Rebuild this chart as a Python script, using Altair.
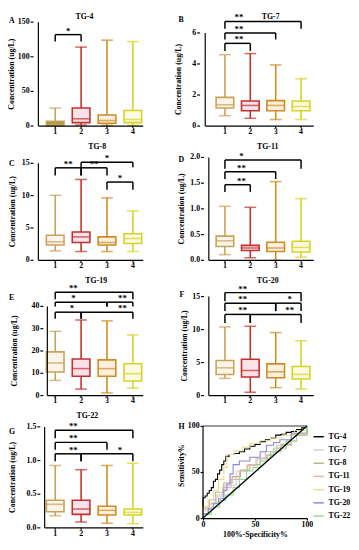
import altair as alt
import pandas as pd

FONT = "Liberation Serif"
GROUPS = [1, 2, 3, 4]
BOX_COLORS = ["#C9A25A", "#C0322C", "#CF8A22", "#D6D323"]
BOX_FILLS = ["#FBF4E8", "#FBE2EA", "#FDF0E0", "#FBFBE2"]

# ---- box statistics: min, q1, median, q3, max per group ----
TG4_MIN = [0, 1.5, 1, 1]
TG4_Q1 = [1, 5, 4, 5]
TG4_MED = [3, 10.5, 8, 9.5]
TG4_Q3 = [7, 26, 16, 22.5]
TG4_MAX = [26, 114, 124, 122]

TG7_MIN = [0.67, 0.5, 0.42, 0.42]
TG7_Q1 = [1.16, 0.99, 0.99, 0.99]
TG7_MED = [1.37, 1.33, 1.33, 1.26]
TG7_Q3 = [1.85, 1.62, 1.64, 1.62]
TG7_MAX = [4.6, 4.67, 3.94, 3.05]

TG8_MIN = [1.46, 1.36, 1.36, 1.36]
TG8_Q1 = [2.36, 2.76, 2.36, 2.61]
TG8_MED = [2.86, 3.62, 2.76, 3.37]
TG8_Q3 = [3.87, 4.37, 3.62, 4.12]
TG8_MAX = [10.05, 12.5, 9.65, 7.64]

TG11_MIN = [0.11, 0.05, 0.0, 0.06]
TG11_Q1 = [0.27, 0.19, 0.17, 0.16]
TG11_MED = [0.38, 0.24, 0.24, 0.25]
TG11_Q3 = [0.47, 0.29, 0.35, 0.37]
TG11_MAX = [1.05, 1.03, 1.53, 1.2]

TG19_MIN = [6.8, 2.9, 1.2, 3.3]
TG19_Q1 = [10.6, 8.7, 8.7, 6.5]
TG19_MED = [14.6, 12.1, 12.1, 9.8]
TG19_Q3 = [19.6, 16.4, 16.0, 14.3]
TG19_MAX = [28.8, 33.9, 33.5, 27.2]

TG20_MIN = [2.6, 0.5, 1.2, 1.0]
TG20_Q1 = [3.2, 2.8, 2.7, 2.5]
TG20_MED = [4.2, 3.8, 3.6, 3.2]
TG20_Q3 = [5.3, 5.5, 4.8, 4.4]
TG20_MAX = [10.4, 10.5, 9.55, 8.3]

TG22_MIN = [0.18, 0.087, 0.068, 0.063]
TG22_Q1 = [0.24, 0.2, 0.19, 0.19]
TG22_MED = [0.35, 0.28, 0.26, 0.23]
TG22_Q3 = [0.41, 0.41, 0.32, 0.28]
TG22_MAX = [0.927, 0.864, 0.927, 0.96]

# ---- y tick labels ----
TG4_TICKS = ["0", "50", "100", "150"]
TG7_TICKS = ["0", "2", "4", "6"]
TG8_TICKS = ["0", "5", "10", "15"]
TG11_TICKS = ["0.0", "0.5", "1.0", "1.5", "2.0"]
TG19_TICKS = ["0", "10", "20", "30", "40"]
TG20_TICKS = ["0", "5", "10", "15"]
TG22_TICKS = ["0.0", "0.5", "1.0", "1.5"]

# ---- significance brackets ----
TG4_BR = dict(x1=[1], x2=[2], y=[132], low=[122], lab=["*"], lx=[1.5])
TG7_BR = dict(x1=[1, 1, 1], x2=[2, 3, 4], y=[5.33, 6.0, 6.74], low=[4.84, 5.58, 6.27],
              lab=["**", "**", "**"], lx=[1.55, 1.55, 1.55])
TG8_BR = dict(x1=[1, 2, 2, 3], x2=[2, 3, 4, 4], y=[14.3, 14.3, 15.15, 12.1], low=[13.1, 13.1, 14.4, 10.9],
              lab=["**", "**", "*", "*"], lx=[1.5, 2.5, 3.0, 3.5])
TG11_BR = dict(x1=[1, 1, 1], x2=[2, 3, 4], y=[1.47, 1.72, 1.95], low=[1.33, 1.58, 1.78],
               lab=["**", "**", "*"], lx=[1.65, 1.65, 1.65])
TG19_BR = dict(x1=[1, 1, 3, 1, 2], x2=[4, 3, 4, 2, 4], y=[46.3, 41.9, 41.9, 37.4, 37.4],
               low=[43.2, 40.0, 40.0, 34.5, 34.5], lab=["**", "*", "**", "*", "**"],
               lx=[1.7, 1.7, 3.6, 1.65, 3.6])
TG20_BR = dict(x1=[1, 1, 3, 1, 2], x2=[4, 3, 4, 2, 4], y=[15.6, 14.0, 14.0, 12.3, 12.3],
               low=[14.3, 12.8, 12.8, 11.0, 11.0], lab=["**", "**", "*", "**", "**"],
               lx=[1.7, 1.7, 3.55, 1.7, 3.55])
TG22_BR = dict(x1=[1, 1, 1, 2], x2=[4, 3, 2, 4], y=[1.45, 1.27, 1.10, 1.10], low=[1.33, 1.16, 0.99, 0.99],
               lab=["**", "**", "**", "*"], lx=[1.7, 1.7, 1.7, 3.5])

# ---- ROC curves ----
ROC_NAMES = ["TG-4", "TG-7", "TG-8", "TG-11", "TG-19", "TG-20", "TG-22"]
ROC_COLORS = ["#000000", "#D4D4D4", "#B9B27A", "#D9B9AC", "#E6DF95", "#8C86E6", "#98D698"]
TG4_FPR = [0, 0, 2, 4, 6, 8, 10, 12, 14, 16, 18, 20, 22, 25, 30, 35, 40, 45, 50, 55, 60, 65, 70, 75, 80, 85, 90, 95, 100]
TG4_TPR = [0, 22, 24, 27, 30, 33, 40, 42, 48, 52, 58, 62, 67, 69, 70, 72, 75, 78, 80, 83, 85, 87, 90, 91, 93, 94, 96, 98, 100]
TG7_FPR = [0, 0, 6, 13, 20, 32, 42, 52, 61, 70, 80, 90, 100]
TG7_TPR = [0, 8, 15, 23, 35, 51, 57, 63, 69, 75, 83, 92, 100]
TG8_FPR = [0, 0, 6, 12, 20, 28, 36, 45, 55, 65, 75, 85, 100]
TG8_TPR = [0, 12, 20, 28, 38, 45, 52, 58, 65, 72, 80, 90, 100]
TG11_FPR = [0, 0, 6, 12, 19, 27, 35, 43, 51, 60, 71, 85, 100]
TG11_TPR = [0, 10, 16, 25, 33, 42, 51, 58, 65, 72, 79, 90, 100]
TG19_FPR = [0, 0, 5, 10, 15, 20, 23, 30, 38, 45, 55, 65, 77, 88, 100]
TG19_TPR = [0, 12, 20, 30, 42, 55, 69, 73, 77, 81, 84, 87, 90, 95, 100]
TG20_FPR = [0, 0, 5, 10, 15, 20, 23, 26, 29, 35, 45, 55, 61, 68, 74, 85, 100]
TG20_TPR = [0, 5, 10, 16, 21, 30, 37, 48, 58, 62, 66, 72, 79, 82, 85, 92, 100]
TG22_FPR = [0, 0, 8, 16, 22, 29, 35, 42, 48, 55, 62, 68, 80, 90, 100]
TG22_TPR = [0, 4, 12, 19, 25, 33, 42, 51, 55, 62, 68, 76, 84, 92, 100]

AX = dict(labelFont=FONT, titleFont=FONT, labelFontWeight="bold", titleFontWeight="bold",
          labelFontSize=8, titleFontSize=8, labelColor="black", titleColor="black",
          tickColor="black", tickWidth=1.2, grid=False, labelFlush=False)

LEFT_DOM = [0.35, 4.4]
RIGHT_DOM = [0.33, 4.5]


def txt(s, x, y, size=8, align="left", baseline="middle", angle=0):
    return alt.Chart(pd.DataFrame({"t": [s]})).mark_text(
        font=FONT, fontWeight="bold", fontSize=size, align=align, baseline=baseline, color="black",
        angle=angle).encode(x=alt.value(x), y=alt.value(y), text="t:N")


def box_panel(title, title_x, letter, letter_xy, mins, q1, med, q3, maxs, ticks, ytop, br,
              w, h, xdom, ax_off, ytitle_off, first_fill=None):
    fills = list(BOX_FILLS)
    if first_fill:
        fills[0] = first_fill
    df = pd.DataFrame({"g": GROUPS, "gl": [str(g) for g in GROUPS], "lo": mins, "q1": q1, "med": med,
                       "q3": q3, "hi": maxs, "c": BOX_COLORS, "f": fills})
    xs = alt.Scale(domain=xdom, nice=False, zero=False)
    ys = alt.Scale(domain=[0, ytop], nice=False, zero=True)
    tvals = [float(t) for t in ticks]
    ymax = tvals[-1]
    x_axis_start = xdom[0] + ax_off * (xdom[1] - xdom[0]) / w
    col = alt.Color("c:N", scale=None)

    def X(f):
        return alt.X(f, scale=xs, axis=None)

    def Y(f):
        return alt.Y(f, scale=ys, axis=None)

    base = alt.Chart(df)
    whisk = base.mark_rule(strokeWidth=1.6).encode(x=X("g:Q"), y=Y("lo:Q"), y2="hi:Q", color=col)
    cap_lo = base.mark_tick(orient="horizontal", size=12, thickness=1.6).encode(
        x=X("g:Q"), y=Y("lo:Q"), color=col)
    cap_hi = base.mark_tick(orient="horizontal", size=12, thickness=1.6).encode(
        x=X("g:Q"), y=Y("hi:Q"), color=col)
    box = base.mark_bar(size=18, strokeWidth=1.6).encode(
        x=X("g:Q"), y=Y("q1:Q"), y2="q3:Q",
        fill=alt.Fill("f:N", scale=None), stroke=alt.Stroke("c:N", scale=None))
    mid = base.mark_tick(orient="horizontal", size=18, thickness=1.6).encode(
        x=X("g:Q"), y=Y("med:Q"), color=col)
    # x axis ticks and labels
    xticks = base.mark_rule(color="black", strokeWidth=1.2).encode(
        x=X("g:Q"), y=alt.value(h), y2=alt.value(h + 2))
    xlabels = base.mark_text(font=FONT, fontWeight="bold", fontSize=8, baseline="middle", color="black").encode(
        x=X("g:Q"), y=alt.value(h + 6), text="gl:N")

    # y axis ticks and labels
    tdf = pd.DataFrame({"v": tvals, "lab": ticks})
    tb = alt.Chart(tdf)
    yticks = tb.mark_rule(color="black", strokeWidth=1.2).encode(
        x=alt.value(ax_off - 3), x2=alt.value(ax_off), y=Y("v:Q"))
    ylabels = tb.mark_text(font=FONT, fontWeight="bold", fontSize=8, align="right", baseline="middle",
                           color="black").encode(x=alt.value(ax_off - 4), y=Y("v:Q"), text="lab:N")
    ymid = h - (h * ymax / ytop) / 2.0
    ytitle = txt("Concentration (ug/L)", ax_off + ytitle_off, ymid, align="center", angle=270)

    axdf = pd.DataFrame({"x0": [x_axis_start], "x1": [xdom[1]], "y0": [0], "y1": [ymax]})
    yline = alt.Chart(axdf).mark_rule(color="black", strokeWidth=1.2).encode(
        x=X("x0:Q"), y=Y("y0:Q"), y2="y1:Q")
    xline = alt.Chart(axdf).mark_rule(color="black", strokeWidth=1.2).encode(
        x=X("x0:Q"), x2="x1:Q", y=Y("y0:Q"))

    bdf = pd.DataFrame(br)
    bb = alt.Chart(bdf)
    hbar = bb.mark_rule(color="black", strokeWidth=1.5).encode(x=X("x1:Q"), x2="x2:Q", y=Y("y:Q"))
    leg1 = bb.mark_rule(color="black", strokeWidth=1.5).encode(x=X("x1:Q"), y=Y("low:Q"), y2="y:Q")
    leg2 = bb.mark_rule(color="black", strokeWidth=1.5).encode(x=X("x2:Q"), y=Y("low:Q"), y2="y:Q")
    stars = bb.mark_text(font=FONT, fontWeight="bold", fontSize=9, baseline="bottom", dy=1).encode(
        x=X("lx:Q"), y=Y("y:Q"), text="lab:N")

    return alt.layer(whisk, cap_lo, cap_hi, box, mid, yline, xline, xticks, xlabels, yticks, ylabels,
                     ytitle, hbar, leg1, leg2, stars,
                     txt(title, title_x, 0, align="center", baseline="top"),
                     txt(letter, letter_xy[0], letter_xy[1])).properties(width=w, height=h)


def roc_panel(w, h, ytop):
    rows = []
    series = [(TG4_FPR, TG4_TPR), (TG7_FPR, TG7_TPR), (TG8_FPR, TG8_TPR), (TG11_FPR, TG11_TPR),
              (TG19_FPR, TG19_TPR), (TG20_FPR, TG20_TPR), (TG22_FPR, TG22_TPR)]
    for name, (fx, ty) in zip(ROC_NAMES, series):
        for i, (a, b) in enumerate(zip(fx, ty)):
            rows.append({"name": name, "order": i, "fpr": a, "tpr": b})
    df = pd.DataFrame(rows)
    xs = alt.Scale(domain=[0, 100], nice=False)
    ys = alt.Scale(domain=[0, ytop], nice=False)
    lines = alt.Chart(df).mark_line(strokeWidth=1.1, interpolate="step-after").encode(
        x=alt.X("fpr:Q", scale=xs, axis=alt.Axis(values=[0, 50, 100], title="100%-Specificity%",
                                                    titlePadding=2, tickSize=2, labelPadding=1,
                                                    domainColor="black", domainWidth=1.2, **AX)),
        y=alt.Y("tpr:Q", scale=ys, axis=alt.Axis(values=[0, 50, 100], title="Sensitivity%",
                                                    titlePadding=2, tickSize=3, labelPadding=1,
                                                    domain=False, **AX)),
        color=alt.Color("name:N", sort=ROC_NAMES,
                        scale=alt.Scale(domain=ROC_NAMES, range=ROC_COLORS),
                        legend=alt.Legend(title=None, orient="none", legendX=w + 6, legendY=19,
                                          symbolType="stroke", symbolStrokeWidth=1.5, symbolSize=110,
                                          labelFont=FONT, labelFontWeight="bold", labelFontSize=8,
                                          labelColor="black", rowPadding=3.5, labelOffset=4)),
        order="order:Q")
    diag = alt.Chart(pd.DataFrame({"a": [0, 100], "b": [0, 100]})).mark_line(
        color="black", strokeWidth=1.3).encode(x=alt.X("a:Q", scale=xs), y=alt.Y("b:Q", scale=ys))
    top = alt.Chart(pd.DataFrame({"a": [0], "a2": [100], "b": [100]})).mark_rule(
        color="#9A9A9A", strokeWidth=2).encode(x=alt.X("a:Q", scale=xs), x2="a2:Q", y=alt.Y("b:Q", scale=ys))
    yline = alt.Chart(pd.DataFrame({"a": [0], "b": [0], "b2": [100]})).mark_rule(
        color="black", strokeWidth=1.2).encode(x=alt.X("a:Q", scale=xs), y=alt.Y("b:Q", scale=ys), y2="b2:Q")
    return alt.layer(lines, top, diag, yline, txt("H", -25, 15)).properties(width=w, height=h)


LW, RW = 117, 118
A = box_panel("TG-4", 52, "A", (-25, 8), TG4_MIN, TG4_Q1, TG4_MED, TG4_Q3, TG4_MAX,
              TG4_TICKS, 162.7, TG4_BR, LW, 115, LEFT_DOM, 0, -22, first_fill="#A39A48")
B = box_panel("TG-7", 69, "B", (-25, 7), TG7_MIN, TG7_Q1, TG7_MED, TG7_Q3, TG7_MAX,
              TG7_TICKS, 7.263, TG7_BR, RW, 115, RIGHT_DOM, -3, -21)
C = box_panel("TG-8", 65, "C", (-25, 22), TG8_MIN, TG8_Q1, TG8_MED, TG8_Q3, TG8_MAX,
              TG8_TICKS, 18.18, TG8_BR, LW, 120, LEFT_DOM, 0, -21)
D = box_panel("TG-11", 66, "D", (-25, 18), TG11_MIN, TG11_Q1, TG11_MED, TG11_Q3, TG11_MAX,
              TG11_TICKS, 2.286, TG11_BR, RW, 120, RIGHT_DOM, 1, -22)
E = box_panel("TG-19", 64, "E", (-25, 21), TG19_MIN, TG19_Q1, TG19_MED, TG19_Q3, TG19_MAX,
              TG19_TICKS, 53.19, TG19_BR, LW, 121, LEFT_DOM, 10, -29)
F = box_panel("TG-20", 66, "F", (-24, 18), TG20_MIN, TG20_Q1, TG20_MED, TG20_Q3, TG20_MAX,
              TG20_TICKS, 17.97, TG20_BR, RW, 121, RIGHT_DOM, 1, -19)
G = box_panel("TG-22", 55, "G", (-25, 20), TG22_MIN, TG22_Q1, TG22_MED, TG22_Q3, TG22_MAX,
              TG22_TICKS, 1.718, TG22_BR, LW, 118, LEFT_DOM, 7, -28)
H = roc_panel(106, 108, 114.9)

chart = alt.concat(
    A, B, C, D, E, F, G, H, columns=2, bounds="flush",
    spacing={"row": 17, "column": 56},
).resolve_legend(color="independent").resolve_scale(color="independent").properties(
    padding=0, background="white").configure_view(stroke=None)

chart.save("out.html", embed_options={"renderer": "svg", "actions": False})
